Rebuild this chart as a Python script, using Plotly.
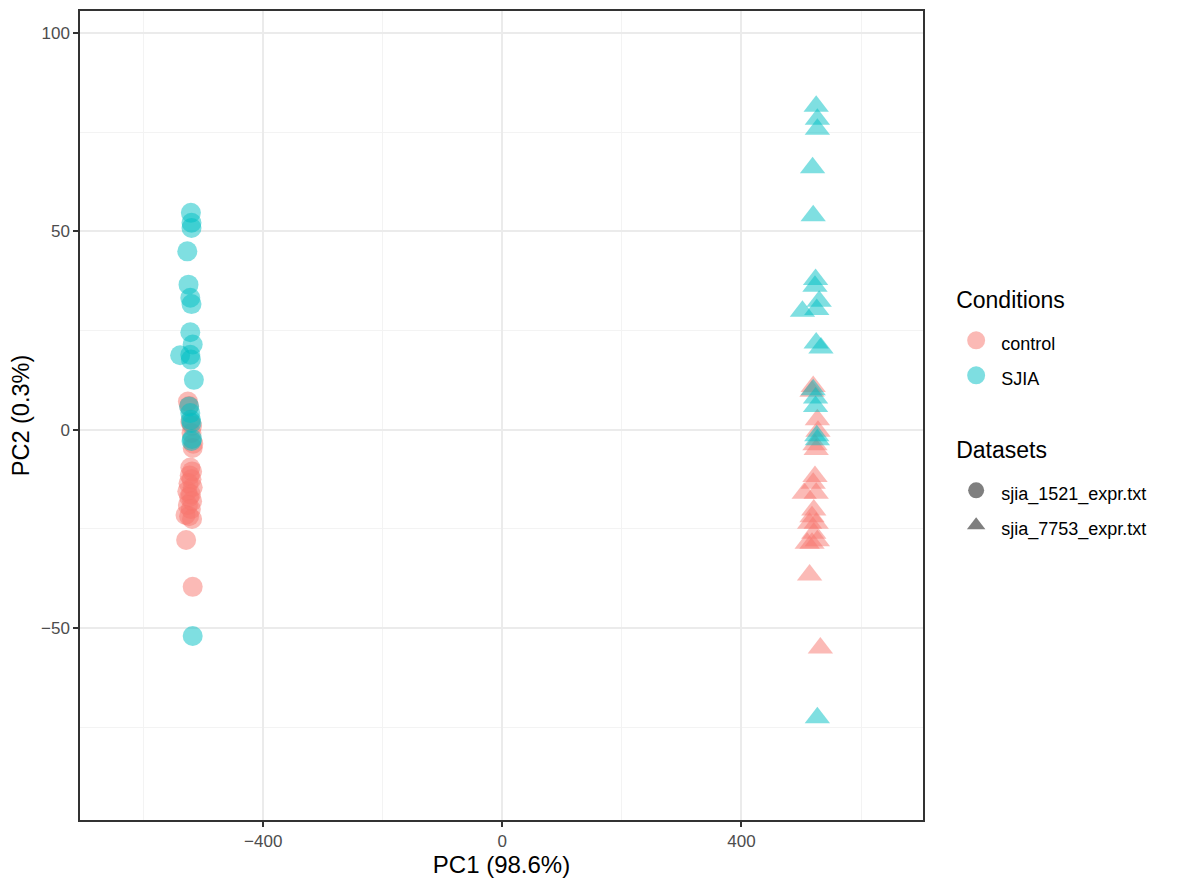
import plotly.graph_objects as go

# --- data ---
sjia_1521_x = [-521, -520, -520, -527, -525, -522, -520, -522, -518, -539, -522, -521, -516, -524, -522, -521, -520, -519, -520, -518]
sjia_1521_y = [54.7, 52.2, 50.9, 45.0, 36.6, 33.3, 31.7, 24.6, 21.5, 18.8, 18.9, 17.7, 12.6, 5.9, 4.2, 2.5, 1.7, -2.3, -2.8, -52.0]

ctrl_1521_x = [-526, -524, -522, -519, -520, -517, -518, -522, -519, -523, -520, -525, -518, -527, -521, -524, -519, -526, -521, -530, -524, -519, -529, -518]
ctrl_1521_y = [7.1, 6.0, 2.0, 1.0, -0.8, -3.5, -4.6, -9.5, -10.5, -11.5, -12.5, -13.5, -14.5, -15.5, -16.3, -17.0, -18.0, -19.0, -20.0, -21.5, -21.8, -22.5, -27.8, -39.6]

sjia_7753_x = [525, 527, 527, 519, 520, 524, 523, 530, 526, 502, 525, 533, 520, 524, 524, 527, 526, 527]
sjia_7753_y = [81.6, 78.3, 75.8, 66.1, 54.0, 37.9, 36.2, 32.4, 30.3, 29.9, 21.9, 20.6, 10.1, 8.0, 5.9, -2.5, -1.5, -72.6]

ctrl_7753_x = [520, 518, 527, 528, 523, 525, 523, 520, 505, 525, 521, 518, 514, 525, 521, 510, 518, 527, 514, 532]
ctrl_7753_y = [10.9, 9.7, 2.5, -0.4, -3.8, -5.0, -11.8, -13.5, -16.0, -16.0, -20.2, -21.9, -23.6, -23.6, -26.1, -28.6, -28.6, -28.0, -36.6, -55.0]

x_ticks = [-400, 0, 400]
y_ticks = [-50, 0, 50, 100]
x_minor = [-600, -200, 200, 600]
y_minor = [-75, -25, 25, 75]

def fmt(v):
    return ("\u2212" + str(-v)) if v < 0 else str(v)

C_CTRL = "#F8766D"
C_SJIA = "#00BFC4"
GRAY = "#7F7F7F"

fig = go.Figure()

def add(x, y, color, symbol, size):
    fig.add_trace(go.Scatter(
        x=x, y=y, mode="markers", showlegend=False, hoverinfo="skip",
        marker=dict(color=color, symbol=symbol, size=size, opacity=0.5, line=dict(width=0)),
    ))

add(ctrl_1521_x, ctrl_1521_y, C_CTRL, "circle", 20)
add(sjia_1521_x, sjia_1521_y, C_SJIA, "circle", 20)
add(ctrl_7753_x, ctrl_7753_y, C_CTRL, "triangle-up", 22)
add(sjia_7753_x, sjia_7753_y, C_SJIA, "triangle-up", 22)

# legend entries
def leg(name, color, symbol, group, title, opacity, line, size):
    fig.add_trace(go.Scatter(
        x=[None], y=[None], mode="markers",
        name='<span style="font-size:18px">' + name + '</span>', legendgroup=group,
        legendgrouptitle=dict(text='<span style="font-size:23px">' + title + '</span>',
                              font=dict(size=50, color="#000000")),
        marker=dict(color=color, symbol=symbol, size=size, opacity=opacity, line=line),
    ))

leg("control", C_CTRL, "circle", "cond", "Conditions", 0.5, dict(width=2, color=C_CTRL), 16)
leg("SJIA", C_SJIA, "circle", "cond", "Conditions", 0.5, dict(width=2, color=C_SJIA), 16)
leg("sjia_1521_expr.txt", GRAY, "circle", "ds", "Datasets", 1.0, dict(width=0), 16)
leg("sjia_7753_expr.txt", GRAY, "triangle-up", "ds", "Datasets", 1.0, dict(width=0), 16)

axis_common = dict(
    showline=True, linecolor="#333333", linewidth=1.5, mirror=True,
    ticks="outside", ticklen=5, tickwidth=1.5, tickcolor="#333333",
    tickfont=dict(size=17, color="#4D4D4D"),
    showgrid=True, gridcolor="#EBEBEB", gridwidth=1.6,
    zeroline=False, automargin=False,
)

fig.update_layout(
    width=1181, height=886,
    paper_bgcolor="white", plot_bgcolor="white",
    font=dict(family="Liberation Sans, Arial, sans-serif", color="#000000"),
    margin=dict(l=72, r=266, t=3, b=74),
    xaxis=dict(range=[-706.5, 703.7], tickvals=x_ticks, ticktext=[fmt(v) for v in x_ticks],
               title=dict(text="PC1 (98.6%)", font=dict(size=24), standoff=5),
               minor=dict(showgrid=True, gridcolor="#F3F3F3", gridwidth=0.9, ticks="", tickvals=x_minor),
               **axis_common),
    yaxis=dict(range=[-98.4, 105.6], tickvals=y_ticks, ticktext=[fmt(v) for v in y_ticks],
               title=dict(text="PC2 (0.3%)", font=dict(size=23.5), standoff=8),
               minor=dict(showgrid=True, gridcolor="#F3F3F3", gridwidth=0.9, ticks="", tickvals=y_minor),
               **axis_common),
    legend=dict(xref="container", yref="container", x=0.7986, y=0.727, xanchor="left", yanchor="top",
                font=dict(size=24.6, color="#000000"), tracegroupgap=12, itemsizing="trace",
                itemwidth=40, bgcolor="rgba(0,0,0,0)"),
)

fig.write_html("out.html")
